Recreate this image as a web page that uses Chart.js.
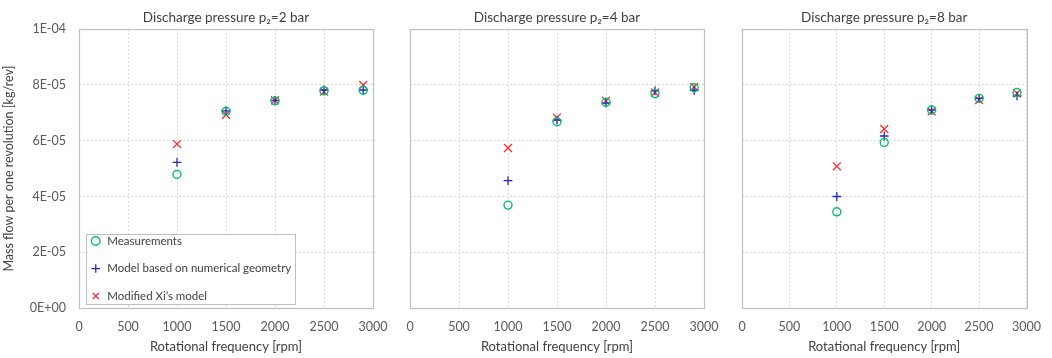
<!DOCTYPE html>
<html><head><meta charset="utf-8">
<script src="https://cdn.jsdelivr.net/npm/chart.js@4/dist/chart.umd.min.js"></script>
<style>
html,body{margin:0;padding:0;background:#fff;}
#wrap{position:relative;width:1052px;height:358px;overflow:hidden;}
#wrap canvas{position:absolute;left:0;top:0;}
</style>
</head><body>
<div id="wrap">
<canvas id="c1" width="1052" height="358"></canvas>
<canvas id="c2" width="1052" height="358"></canvas>
<canvas id="c3" width="1052" height="358"></canvas>
</div>
<script>
// ---- data ----
const rpm = [1000, 1500, 2000, 2500, 2900];
const xTickValues = [0, 500, 1000, 1500, 2000, 2500, 3000];
const yTickValues = [0, 2e-5, 4e-5, 6e-5, 8e-5, 1e-4];
const seriesNames = ["Measurements", "Model based on numerical geometry", "Modified Xi\u2019s model"];
const panelTitles = ["Discharge pressure p\u2082=2 bar", "Discharge pressure p\u2082=4 bar", "Discharge pressure p\u2082=8 bar"];

const meas2 = [4.79e-5, 7.05e-5, 7.43e-5, 7.79e-5, 7.81e-5];
const num2  = [5.22e-5, 7.07e-5, 7.45e-5, 7.82e-5, 7.82e-5];
const xi2   = [5.88e-5, 6.93e-5, 7.45e-5, 7.76e-5, 8.00e-5];

const meas4 = [3.69e-5, 6.68e-5, 7.38e-5, 7.69e-5, 7.90e-5];
const num4  = [4.57e-5, 6.74e-5, 7.35e-5, 7.79e-5, 7.81e-5];
const xi4   = [5.74e-5, 6.83e-5, 7.43e-5, 7.73e-5, 7.93e-5];

const meas8 = [3.45e-5, 5.94e-5, 7.10e-5, 7.52e-5, 7.73e-5];
const num8  = [4.00e-5, 6.17e-5, 7.10e-5, 7.52e-5, 7.61e-5];
const xi8   = [5.08e-5, 6.42e-5, 7.05e-5, 7.46e-5, 7.70e-5];

// ---- styling ----
const FONT = "Lato, 'Open Sans', 'DejaVu Sans', sans-serif";
const GREEN = '#00C06E', BLUE = '#2626C8', RED = '#FF2A2A';
const GRID = '#d9d9d9', FRAME = '#bfbfbf', TXT = '#404040', TICK = '#595959';

function fmtE(v) {
  if (Math.abs(v) < 1e-12) return '0E+00';
  const e = Math.floor(Math.log10(Math.abs(v)) + 1e-9);
  const m = Math.round(v / Math.pow(10, e));
  return m + 'E' + (e < 0 ? '-' : '+') + String(Math.abs(e)).padStart(2, '0');
}

const pts = arr => arr.map((y, i) => ({x: rpm[i], y}));

const framePlugin = {
  id: 'frame',
  beforeDatasetsDraw(chart) {
    const a = chart.chartArea, ctx = chart.ctx;
    ctx.save();
    ctx.strokeStyle = FRAME; ctx.lineWidth = 1.2;
    ctx.strokeRect(Math.round(a.left) + 0.5, Math.round(a.top) + 0.5, Math.round(a.right - a.left), Math.round(a.bottom - a.top));
    ctx.restore();
  }
};

const legendFrame = {
  id: 'legendFrame',
  afterLayout(chart, args, opts) {
    const lg = chart.legend;
    if (!lg || !opts.on) return;
    lg.left += opts.dx; lg.right += opts.dx;
    lg.top += opts.dy; lg.bottom += opts.dy;
    if (!lg._framed) {
      const orig = lg.draw;
      lg.draw = function () {
        const hb = this.legendHitBoxes || [];
        if (hb.length) {
          const l = Math.min(...hb.map(h => h.left)) - 4;
          const r = Math.max(...hb.map(h => h.left + h.width)) + 4;
          const t = Math.min(...hb.map(h => h.top)) - 1;
          const b = Math.max(...hb.map(h => h.top + h.height)) + 2;
          const ctx = chart.ctx;
          ctx.save();
          ctx.fillStyle = '#fff';
          ctx.fillRect(l, t, r - l, b - t);
          ctx.strokeStyle = FRAME; ctx.lineWidth = 1;
          ctx.strokeRect(Math.round(l) + 0.5, Math.round(t) + 0.5, Math.round(r - l), Math.round(b - t));
          ctx.restore();
        }
        return orig.apply(this, arguments);
      };
      lg._framed = true;
    }
  }
};

function makePanel(id, title, meas, num, xi, o) {
  return new Chart(document.getElementById(id), {
    type: 'scatter',
    data: {
      datasets: [
        {label: seriesNames[0], data: pts(meas), pointStyle: 'circle', pointRadius: 4, borderColor: GREEN, backgroundColor: 'rgba(0,0,0,0)', borderWidth: 1.4},
        {label: seriesNames[1], data: pts(num), pointStyle: 'cross', pointRadius: 4.4, borderColor: BLUE, backgroundColor: BLUE, borderWidth: 1.3},
        {label: seriesNames[2], data: pts(xi), pointStyle: 'crossRot', pointRadius: 5.6, borderColor: RED, backgroundColor: RED, borderWidth: 1.3}
      ]
    },
    options: {
      responsive: false,
      animation: false,
      events: [],
      layout: {padding: {left: o.padL, right: o.padR, top: 0, bottom: 0}},
      scales: {
        x: {
          type: 'linear', min: 0, max: 3000,
          afterBuildTicks: s => { s.ticks = xTickValues.map(v => ({value: v})); },
          afterFit: s => { s.height = 50; },
          grid: {color: GRID, drawTicks: false, lineWidth: 1},
          border: {display: false, dash: [2, 2]},
          ticks: {color: TICK, font: {family: FONT, size: 12.5}, padding: 11, maxRotation: 0, callback: v => String(v)},
          title: {display: true, text: 'Rotational frequency [rpm]', color: TXT, font: {family: FONT, size: 13}, padding: {top: 0, bottom: 3}}
        },
        y: {
          type: 'linear', min: 0, max: 1e-4,
          afterBuildTicks: s => { s.ticks = yTickValues.map(v => ({value: v})); },
          afterFit: s => { s.width = o.yWidth; },
          grid: {color: GRID, drawTicks: false, lineWidth: 1},
          border: {display: false, dash: [2, 2]},
          ticks: {display: o.showY, color: TICK, font: {family: FONT, size: 12.5}, padding: 13, callback: v => fmtE(v)},
          title: {display: o.showY, text: 'Mass flow per one revolution [kg/rev]', color: TXT, font: {family: FONT, size: 12.5}, padding: {top: 1, bottom: 0}}
        }
      },
      plugins: {
        title: {display: true, text: title, fullSize: false, color: TXT, font: {family: FONT, size: 13.5, weight: 'normal'}, padding: {top: 10, bottom: 3}},
        legend: {
          display: o.showLegend, position: 'chartArea', align: 'end',
          labels: {usePointStyle: true, boxWidth: 12, boxHeight: 6, padding: 16, color: TXT, font: {family: FONT, size: 11.5}}
        },
        legendFrame: {on: o.showLegend, dx: -5, dy: 39},
        tooltip: {enabled: false}
      }
    },
    plugins: [framePlugin, legendFrame]
  });
}

makePanel('c1', panelTitles[0], meas2, num2, xi2, {padL: 0, padR: 679, yWidth: 79, showY: true, showLegend: true});
makePanel('c2', panelTitles[1], meas4, num4, xi4, {padL: 380, padR: 348, yWidth: 30, showY: false, showLegend: false});
makePanel('c3', panelTitles[2], meas8, num8, xi8, {padL: 712, padR: 16, yWidth: 30, showY: false, showLegend: false});
</script>
</body></html>
